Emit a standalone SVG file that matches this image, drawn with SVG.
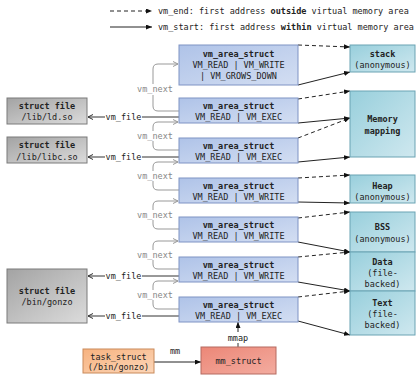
<svg xmlns="http://www.w3.org/2000/svg" width="416" height="375" viewBox="0 0 416 375">
<defs>
<style>
.t{font-family:"DejaVu Sans Mono","Liberation Mono",monospace;font-size:8.5px;fill:#222;text-anchor:middle}
.b{font-weight:bold}
.g{fill:#888}
.l{text-anchor:start}
.vma{fill:url(#gb);stroke:#7f93c4;stroke-width:1}
.mem{fill:url(#gt);stroke:#6aa3b3;stroke-width:1}
.file{fill:url(#gg);stroke:#7a7a7a;stroke-width:1}
.s{stroke:#222;stroke-width:1;fill:none;marker-end:url(#af)}
.d{stroke:#222;stroke-width:1;fill:none;stroke-dasharray:4 3;marker-end:url(#af)}
.nx{stroke:#999;stroke-width:1;fill:none}
.fl{stroke:#333;stroke-width:1;fill:none}
</style>
<linearGradient id="gb" x1="0" y1="0" x2="1" y2="1"><stop offset="0" stop-color="#afc3e8"/><stop offset="1" stop-color="#d3def2"/></linearGradient>
<linearGradient id="gt" x1="0" y1="0" x2="1" y2="1"><stop offset="0" stop-color="#98cfdc"/><stop offset="1" stop-color="#cfe8ef"/></linearGradient>
<linearGradient id="gg" x1="0" y1="0" x2="1" y2="1"><stop offset="0" stop-color="#a3a3a3"/><stop offset="1" stop-color="#dcdcdc"/></linearGradient>
<linearGradient id="go" x1="0" y1="0" x2="1" y2="1"><stop offset="0" stop-color="#f7b27f"/><stop offset="1" stop-color="#fcd6b8"/></linearGradient>
<linearGradient id="gr" x1="0" y1="0" x2="1" y2="1"><stop offset="0" stop-color="#ec8777"/><stop offset="1" stop-color="#f3aca0"/></linearGradient>
<marker id="af" viewBox="0 0 6 5" refX="6" refY="2.5" markerWidth="6" markerHeight="5" markerUnits="userSpaceOnUse" orient="auto"><path d="M0,0 L6,2.5 L0,5 z" fill="#111"/></marker>
<marker id="ag" viewBox="0 0 6 6" refX="5.5" refY="3" markerWidth="6" markerHeight="6" markerUnits="userSpaceOnUse" orient="auto"><path d="M0.5,0.5 L5.5,3 L0.5,5.5" fill="none" stroke="#999" stroke-width="1"/></marker>
<marker id="ad" viewBox="0 0 6 6" refX="5.5" refY="3" markerWidth="6" markerHeight="6" markerUnits="userSpaceOnUse" orient="auto"><path d="M0.5,0.5 L5.5,3 L0.5,5.5" fill="none" stroke="#333" stroke-width="1"/></marker>
</defs>
<rect width="416" height="375" fill="#fff"/>

<g id="legend">
<line x1="110" y1="11" x2="152" y2="11" class="d"/>
<text x="158" y="14" class="t l">vm_end: first address <tspan class="b">outside</tspan> virtual memory area</text>
<line x1="110" y1="27" x2="152" y2="27" class="s"/>
<text x="158" y="30" class="t l">vm_start: first address <tspan class="b">within</tspan> virtual memory area</text>
</g>

<g id="connectors">
<!-- vm_end / vm_start -->
<line x1="298" y1="45" x2="350" y2="47" class="d"/>
<line x1="298" y1="85" x2="350" y2="72" class="s"/>
<line x1="298" y1="99" x2="350" y2="91" class="d"/>
<line x1="298" y1="123" x2="350" y2="118" class="s"/>
<line x1="298" y1="138" x2="350" y2="118" class="d"/>
<line x1="298" y1="162" x2="350" y2="157" class="s"/>
<line x1="298" y1="178" x2="350" y2="175" class="d"/>
<line x1="298" y1="202" x2="350" y2="203" class="s"/>
<line x1="298" y1="218" x2="350" y2="212" class="d"/>
<line x1="298" y1="242" x2="350" y2="252" class="s"/>
<line x1="298" y1="257" x2="350" y2="252" class="d"/>
<line x1="298" y1="282" x2="350" y2="291" class="s"/>
<line x1="298" y1="297" x2="350" y2="291" class="d"/>
<line x1="298" y1="321" x2="350" y2="335" class="s"/>
<!-- vm_next -->
<path d="M153,84 L153,69 Q153,64 158,64 L178,64" class="nx" marker-end="url(#ag)"/>
<path d="M153,95 L153,106 Q153,111 158,111 L179,111" class="nx"/>
<text x="155" y="92" class="t g">vm_next</text>
<path d="M153,131 L153,127 Q153,122 158,122 L178,122" class="nx" marker-end="url(#ag)"/>
<path d="M153,141 L153,145 Q153,150 158,150 L179,150" class="nx"/>
<text x="155" y="139" class="t g">vm_next</text>
<path d="M153,171 L153,167 Q153,162 158,162 L178,162" class="nx" marker-end="url(#ag)"/>
<path d="M153,181 L153,185 Q153,190 158,190 L179,190" class="nx"/>
<text x="155" y="179" class="t g">vm_next</text>
<path d="M153,210 L153,206 Q153,201 158,201 L178,201" class="nx" marker-end="url(#ag)"/>
<path d="M153,220 L153,224 Q153,229 158,229 L179,229" class="nx"/>
<text x="155" y="218" class="t g">vm_next</text>
<path d="M153,250 L153,246 Q153,241 158,241 L178,241" class="nx" marker-end="url(#ag)"/>
<path d="M153,260 L153,264 Q153,269 158,269 L179,269" class="nx"/>
<text x="155" y="258" class="t g">vm_next</text>
<path d="M153,290 L153,286 Q153,281 158,281 L178,281" class="nx" marker-end="url(#ag)"/>
<path d="M153,300 L153,304 Q153,309 158,309 L179,309" class="nx"/>
<text x="155" y="298" class="t g">vm_next</text>
<!-- vm_file -->
<line x1="179" y1="117" x2="142" y2="117" class="fl"/>
<line x1="105" y1="117" x2="88" y2="117" class="fl" marker-end="url(#ad)"/>
<text x="123.5" y="120" class="t">vm_file</text>
<line x1="179" y1="157" x2="142" y2="157" class="fl"/>
<line x1="105" y1="157" x2="88" y2="157" class="fl" marker-end="url(#ad)"/>
<text x="123.5" y="160" class="t">vm_file</text>
<line x1="179" y1="276" x2="142" y2="276" class="fl"/>
<line x1="105" y1="276" x2="88" y2="276" class="fl" marker-end="url(#ad)"/>
<text x="123.5" y="279" class="t">vm_file</text>
<line x1="179" y1="316" x2="142" y2="316" class="fl"/>
<line x1="105" y1="316" x2="88" y2="316" class="fl" marker-end="url(#ad)"/>
<text x="123.5" y="319" class="t">vm_file</text>
<!-- mm / mmap -->
<line x1="154" y1="362" x2="201" y2="362" class="s"/>
<text x="175" y="354" class="t">mm</text>
<line x1="238" y1="347" x2="238" y2="343" class="fl"/>
<line x1="238" y1="332" x2="238" y2="322" class="s"/>
<text x="238" y="341" class="t">mmap</text>
</g>

<g id="vma1"><rect x="179" y="45" width="119" height="40" class="vma"/>
<text x="238.5" y="57" class="t b">vm_area_struct</text>
<text x="238.5" y="68" class="t">VM_READ | VM_WRITE</text>
<text x="238.5" y="79" class="t">| VM_GROWS_DOWN</text></g>
<g id="vma2"><rect x="179" y="98" width="119" height="25" class="vma"/>
<text x="238.5" y="109" class="t b">vm_area_struct</text>
<text x="238.5" y="120" class="t">VM_READ | VM_EXEC</text></g>
<g id="vma3"><rect x="179" y="138" width="119" height="25" class="vma"/>
<text x="238.5" y="149" class="t b">vm_area_struct</text>
<text x="238.5" y="160" class="t">VM_READ | VM_EXEC</text></g>
<g id="vma4"><rect x="179" y="178" width="119" height="25" class="vma"/>
<text x="238.5" y="189" class="t b">vm_area_struct</text>
<text x="238.5" y="200" class="t">VM_READ | VM_WRITE</text></g>
<g id="vma5"><rect x="179" y="217" width="119" height="25" class="vma"/>
<text x="238.5" y="228" class="t b">vm_area_struct</text>
<text x="238.5" y="239" class="t">VM_READ | VM_WRITE</text></g>
<g id="vma6"><rect x="179" y="257" width="119" height="25" class="vma"/>
<text x="238.5" y="268" class="t b">vm_area_struct</text>
<text x="238.5" y="279" class="t">VM_READ | VM_WRITE</text></g>
<g id="vma7"><rect x="179" y="297" width="119" height="25" class="vma"/>
<text x="238.5" y="308" class="t b">vm_area_struct</text>
<text x="238.5" y="319" class="t">VM_READ | VM_EXEC</text></g>

<g id="stack"><rect x="350" y="45" width="65" height="27" class="mem"/>
<text x="382.5" y="57" class="t b">stack</text>
<text x="382.5" y="68" class="t">(anonymous)</text></g>
<g id="mmapping"><rect x="350" y="91" width="65" height="66" class="mem"/>
<text x="382.5" y="122" class="t b">Memory</text>
<text x="382.5" y="134" class="t b">mapping</text></g>
<g id="heap"><rect x="350" y="175" width="65" height="28" class="mem"/>
<text x="382.5" y="189" class="t b">Heap</text>
<text x="382.5" y="200" class="t">(anonymous)</text></g>
<g id="bss"><rect x="350" y="212" width="65" height="40" class="mem"/>
<text x="382.5" y="230" class="t b">BSS</text>
<text x="382.5" y="242" class="t">(anonymous)</text></g>
<g id="data"><rect x="350" y="252" width="65" height="39" class="mem"/>
<text x="382.5" y="265" class="t b">Data</text>
<text x="382.5" y="276" class="t">(file-</text>
<text x="382.5" y="287" class="t">backed)</text></g>
<g id="text"><rect x="350" y="291" width="65" height="44" class="mem"/>
<text x="382.5" y="306" class="t b">Text</text>
<text x="382.5" y="317" class="t">(file-</text>
<text x="382.5" y="328" class="t">backed)</text></g>

<g id="file-ld"><rect x="7" y="98" width="80" height="26" class="file"/>
<text x="47" y="109" class="t b">struct file</text>
<text x="47" y="120" class="t">/lib/ld.so</text></g>
<g id="file-libc"><rect x="7" y="137" width="80" height="26" class="file"/>
<text x="47" y="148" class="t b">struct file</text>
<text x="47" y="160" class="t">/lib/libc.so</text></g>
<g id="file-gonzo"><rect x="7" y="269" width="80" height="54" class="file"/>
<text x="47" y="294" class="t b">struct file</text>
<text x="47" y="305" class="t">/bin/gonzo</text></g>

<g id="task_struct"><rect x="83" y="349" width="71" height="24" fill="url(#go)" stroke="#c98a5b"/>
<text x="118.5" y="360" class="t">task_struct</text>
<text x="118.5" y="370" class="t">(/bin/gonzo)</text></g>
<g id="mm_struct"><rect x="201" y="347" width="75" height="27" fill="url(#gr)" stroke="#b56b60"/>
<text x="238.5" y="364" class="t">mm_struct</text></g>
</svg>
